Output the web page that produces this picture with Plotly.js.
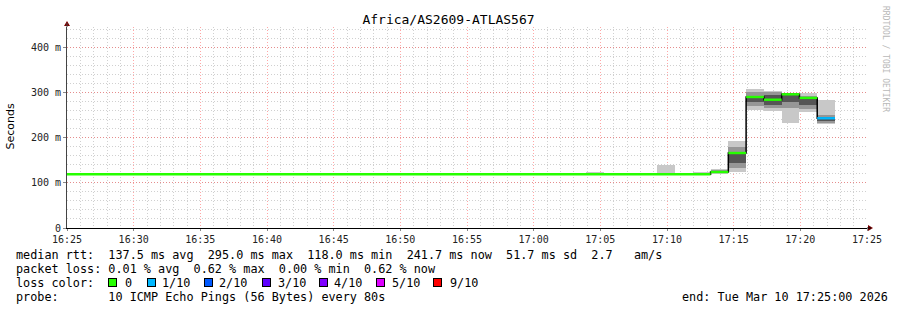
<!DOCTYPE html>
<html>
<head>
<meta charset="utf-8">
<script src="https://cdn.plot.ly/plotly-3.0.1.min.js"></script>
<style>html,body{margin:0;padding:0;background:#fff;}#chart{width:897px;height:310px;}</style>
</head>
<body>
<div id="chart"></div>
<script>
// ---- data ----
const day = '2026-03-10 ';
const smokeStart = ['17:03:56','17:09:16','17:11:56','17:13:16','17:14:36','17:15:56','17:17:16','17:18:36','17:19:56','17:21:16'];
const smokeMin   = [119, 119, 119, 119, 125, 262, 260, 232, 256, 230];
const smokeMax   = [125, 140, 123, 131, 192, 307, 303, 299, 299, 284];
const smokeLo    = [null, null, null, 121, 133, 270, 265, 265, 263, 233];
const smokeHi    = [null, null, null, 128, 180, 300, 300, 298, 292, 250];
const coreLo     = [null, null, null, 122, 145, 280, 272, 280, 272, 236];
const coreHi     = [null, null, null, 126, 166, 292, 294, 297, 290, 246];

const medStart = ['16:25:00','17:13:16','17:14:36','17:15:56','17:17:16','17:18:36','17:19:56','17:21:16'];
const medEnd   = '17:22:36';
const medValue = [119, 124, 166, 290, 284, 296, 288, 243];
const medLoss  = [0, 0, 0, 0, 0, 0, 0, 1];

const lossColors = ['#26ff00','#00b8ff','#0059ff','#5e00ff','#7e00ff','#dd00ff','#ff0000'];
const lossLabels = ['0','1/10','2/10','3/10','4/10','5/10','9/10'];

const yTickVals = [0, 100, 200, 300, 400];
const yTickText = ['0', '100 m', '200 m', '300 m', '400 m'];

const titleText = 'Africa/AS2609-ATLAS567';
const statRtt  = 'median rtt:  137.5 ms avg  295.0 ms max  118.0 ms min  241.7 ms now  51.7 ms sd  2.7   am/s';
const statLoss = 'packet loss: 0.01 % avg  0.62 % max  0.00 % min  0.62 % now';
const probeTxt = 'probe:       10 ICMP Echo Pings (56 Bytes) every 80s';
const endTxt   = 'end: Tue Mar 10 17:25:00 2026';
const stepMs = 80000;

// ---- helpers ----
const T = s => day + s;
const nb = s => s.replace(/ /g, '\u00A0');
const px = x => (x - 67) / 800;
const py = y => (228 - y) / 201;

function smokeBars(lo, hi, color) {
  const xs = [], ys = [], bs = [];
  smokeStart.forEach((s, i) => {
    if (lo[i] == null || hi[i] == null) return;
    xs.push(T(s)); ys.push(hi[i] - lo[i]); bs.push(lo[i]);
  });
  return {type:'bar', x:xs, y:ys, base:bs, width:stepMs, offset:0,
    marker:{color:color, line:{width:0}}, hoverinfo:'skip', showlegend:false};
}

const traces = [
  smokeBars(smokeMin, smokeMax, 'rgb(200,200,200)'),
  smokeBars(smokeLo, smokeHi, 'rgb(150,150,150)'),
  smokeBars(coreLo, coreHi, 'rgb(85,85,85)')
];

// black step median
const stepX = medStart.map(T).concat([T(medEnd)]);
const stepY = medValue.concat([medValue[medValue.length - 1]]);
traces.push({type:'scatter', mode:'lines', x:stepX, y:stepY, line:{shape:'hv', color:'#000', width:1.5},
  hoverinfo:'skip', showlegend:false});

// colored median segments by loss
lossColors.forEach((c, li) => {
  const xs = [], ys = [];
  medStart.forEach((s, i) => {
    if (medLoss[i] !== li) return;
    const e = i + 1 < medStart.length ? medStart[i + 1] : medEnd;
    xs.push(T(s), T(e), null); ys.push(medValue[i], medValue[i], null);
  });
  if (xs.length) traces.push({type:'scatter', mode:'lines', x:xs, y:ys,
    line:{color:c, width:2.4}, hoverinfo:'skip', showlegend:false, connectgaps:false});
});

const mono = 'DejaVu Sans Mono, monospace';
const txtFont = {family:mono, size:11.8, color:'#000'};
const annotations = [];
function addText(text, x, y, extra) {
  annotations.push(Object.assign({xref:'paper', yref:'paper', x:px(x), y:py(y), xanchor:'left', yanchor:'middle',
    text:nb(text), showarrow:false, font:txtFont, borderpad:0}, extra || {}));
}
addText(statRtt, 15, 254.5);
addText(statLoss, 15, 268.5);
addText('loss color:', 15, 282.5);
addText(probeTxt, 15, 296.5);
addText(endTxt, 889, 296.5, {xanchor:'right'});

const sqX = [108, 147, 204, 262, 319, 376, 433];
const lbX = [124, 161, 218, 277, 333, 391, 449];
lossColors.forEach((c, i) => {
  annotations.push({xref:'paper', yref:'paper', x:px(sqX[i]), y:py(282.5), xanchor:'left', yanchor:'middle',
    text:'\u00A0', showarrow:false, bgcolor:c, bordercolor:'#000', borderwidth:1, borderpad:0,
    width:7, height:7, font:{size:6}});
  addText(lossLabels[i], lbX[i], 282.5);
});

annotations.push({xref:'paper', yref:'paper', x:px(886), y:py(59), xanchor:'center', yanchor:'middle',
  text:'RRDTOOL / TOBI OETIKER', textangle:90, showarrow:false, font:{family:mono, size:8, color:'#b8b8b8'}});

annotations.push({xref:'paper', yref:'paper', x:px(10.5), y:py(127), xanchor:'center', yanchor:'middle',
  text:'Seconds', textangle:-90, showarrow:false, font:{family:'DejaVu Sans, sans-serif', size:11, color:'#000'}});

const arrowColor = '#7a0000';
const shapes = [
  {type:'path', xref:'paper', yref:'paper', xsizemode:'pixel', ysizemode:'pixel', xanchor:1, yanchor:0,
   path:'M 1,-3 L 6,0 L 1,3 Z', fillcolor:arrowColor, line:{width:0}},
  {type:'path', xref:'paper', yref:'paper', xsizemode:'pixel', ysizemode:'pixel', xanchor:0, yanchor:1,
   path:'M -3,1 L 3,1 L 0,6 Z', fillcolor:arrowColor, line:{width:0}},
  {type:'line', xref:'paper', yref:'paper', xsizemode:'pixel', xanchor:1, x0:0, x1:4, y0:0, y1:0, line:{color:'#000', width:1}},
  {type:'line', xref:'paper', yref:'paper', ysizemode:'pixel', yanchor:1, x0:0, x1:0, y0:0, y1:4, line:{color:'#444', width:1}}
];

const layout = {
  width:897, height:310,
  margin:{l:67, r:30, t:27, b:82},
  paper_bgcolor:'#ffffff', plot_bgcolor:'#ffffff',
  barmode:'overlay', bargap:0,
  showlegend:false,
  title:{text:titleText, font:{family:mono, size:13, color:'#000'}, x:0.5, xref:'container', xanchor:'center',
    y:1 - 19/310, yref:'container', yanchor:'middle'},
  xaxis:{type:'date', range:[T('16:25:00'), T('17:25:00')], tick0:T('16:25:00'), dtick:300000,
    tickformat:'%H:%M', tickfont:{family:mono, size:10, color:'#222'},
    showgrid:true, gridcolor:'rgba(255,60,60,0.45)', griddash:'1px,2px', gridwidth:1,
    minor:{dtick:60000, showgrid:true, gridcolor:'rgba(150,150,150,0.45)', griddash:'1px,2px', gridwidth:1},
    showline:true, linecolor:'#000', linewidth:1, zeroline:false,
    ticks:'outside', ticklen:2, tickcolor:'#888', fixedrange:true},
  yaxis:{range:[0, 445], tickvals:yTickVals, ticktext:yTickText,
    tickfont:{family:mono, size:10, color:'#222'},
    showgrid:true, gridcolor:'rgba(255,60,60,0.45)', griddash:'1px,2px', gridwidth:1,
    minor:{dtick:20, showgrid:true, gridcolor:'rgba(150,150,150,0.45)', griddash:'1px,2px', gridwidth:1},
    showline:true, linecolor:'#444', linewidth:1, zeroline:false,
    ticks:'outside', ticklen:3, tickcolor:'#888', fixedrange:true},
  annotations:annotations,
  shapes:shapes
};

Plotly.newPlot('chart', traces, layout, {staticPlot:true, displayModeBar:false});
</script>
</body>
</html>
